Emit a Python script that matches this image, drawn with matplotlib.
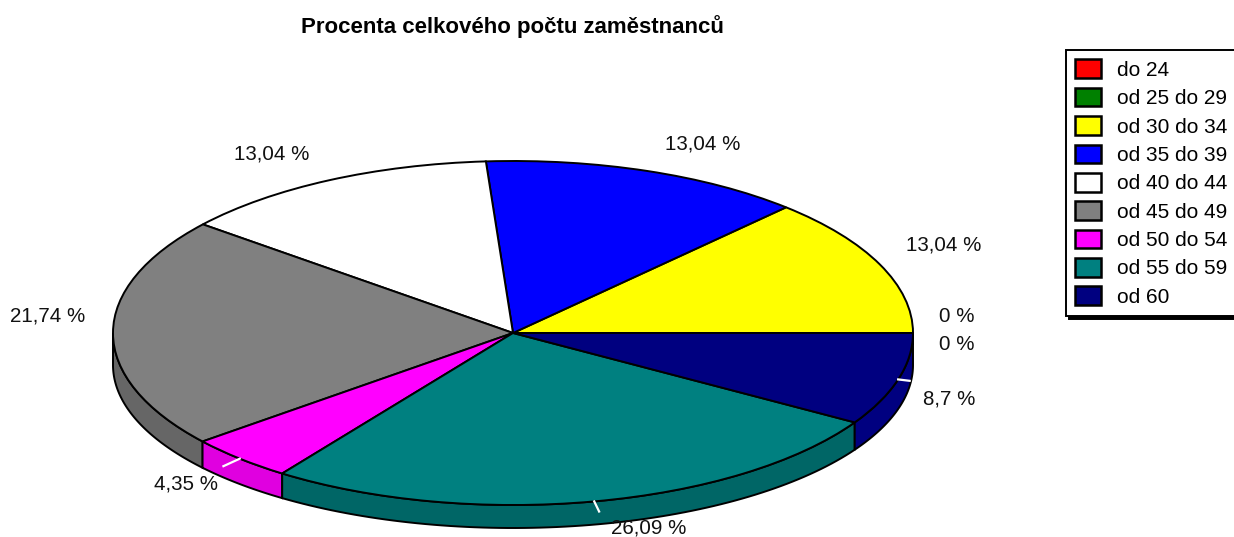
import numpy as np
import matplotlib.pyplot as plt
from matplotlib.patches import Patch

plt.rcParams['font.family'] = ['Liberation Sans', 'DejaVu Sans']

# Data
categorias = ["do 24", "od 25 do 29", "od 30 do 34", "od 35 do 39", "od 40 do 44",
              "od 45 do 49", "od 50 do 54", "od 55 do 59", "od 60"]
procenta = [0, 0, 13.04, 13.04, 13.04, 21.74, 4.35, 26.09, 8.7]
popisky = ["0 %", "0 %", "13,04 %", "13,04 %", "13,04 %", "21,74 %", "4,35 %", "26,09 %", "8,7 %"]
barvy = ["#ff0000", "#008000", "#ffff00", "#0000ff", "#ffffff",
         "#808080", "#ff00ff", "#008080", "#000080"]
barvy_bok = ["#cc0000", "#006000", "#cccc00", "#0000cc", "#cccccc",
             "#666666", "#e000e0", "#006666", "#000080"]
# label centres in pixels
popisky_x = [957, 957, 944, 703, 272, 48, 186, 649, 949]
popisky_y = [316, 345, 245, 144, 154, 316, 484, 528, 399]

W, H = 1234, 537
cx, cy, rx, ry = 513, 333, 400, 172
bok_dy, bok_ry = 32, 163

fig = plt.figure(figsize=(W / 100, H / 100), dpi=100)
ax = fig.add_axes([0, 0, 1, 1])

# Sides of the pie, only the front half is visible
konce = np.cumsum(procenta) * 3.6
zacatky = konce - np.array(procenta) * 3.6
for a0, a1, c in zip(zacatky, konce, barvy_bok):
    a0, a1 = max(a0, 180), max(a1, 180)
    if a1 <= a0:
        continue
    t = np.radians(np.linspace(a0, a1, 80))
    x = np.cos(t)
    y_top = np.sin(t)
    y_bot = (-bok_dy + bok_ry * np.sin(t)) / ry
    ax.fill(np.r_[x, x[::-1]], np.r_[y_top, y_bot[::-1]], facecolor=c,
            edgecolor="black", linewidth=1.4, zorder=1)

# Top of the pie
ax.pie(procenta, colors=barvy, startangle=0, counterclock=True,
       wedgeprops=dict(edgecolor="black", linewidth=1.4, zorder=2))

ax.set_aspect("auto")
ax.set_xlim((0 - cx) / rx, (W - cx) / rx)
ax.set_ylim((cy - H) / ry, cy / ry)
ax.axis("off")

# White leader ticks of the labels that overlap the side
for i in [6, 7, 8]:
    t = np.radians((zacatky[i] + konce[i]) / 2)
    k = 1.03 if i == 8 else 1.06
    ax.plot([np.cos(t), k * np.cos(t)], [np.sin(t), k * np.sin(t)],
            color="white", linewidth=1.6, zorder=3)

for s, x, y in zip(popisky, popisky_x, popisky_y):
    fig.text(x / W, 1 - y / H, s, ha="center", va="center", fontsize=14.8, color="#111111")

fig.text(512 / W, 1 - 27 / H, "Procenta celkového počtu zaměstnanců", ha="center", va="center",
         fontsize=16, fontweight="bold", color="black")

# Legend
uchyty = [Patch(facecolor=c, edgecolor="black", linewidth=1.8) for c in barvy]
leg = ax.legend(uchyty, categorias, loc="upper left",
                bbox_to_anchor=(1066 / W, 1 - 50 / H), bbox_transform=fig.transFigure,
                fontsize=15, borderaxespad=0, borderpad=0.45, labelspacing=0.38,
                handlelength=1.25, handleheight=1.0, handletextpad=0.75,
                fancybox=False, framealpha=1, edgecolor="black",
                shadow={"color": "black", "alpha": 1})
leg.get_frame().set_linewidth(1.4)

fig.savefig("out.png", dpi=100)
